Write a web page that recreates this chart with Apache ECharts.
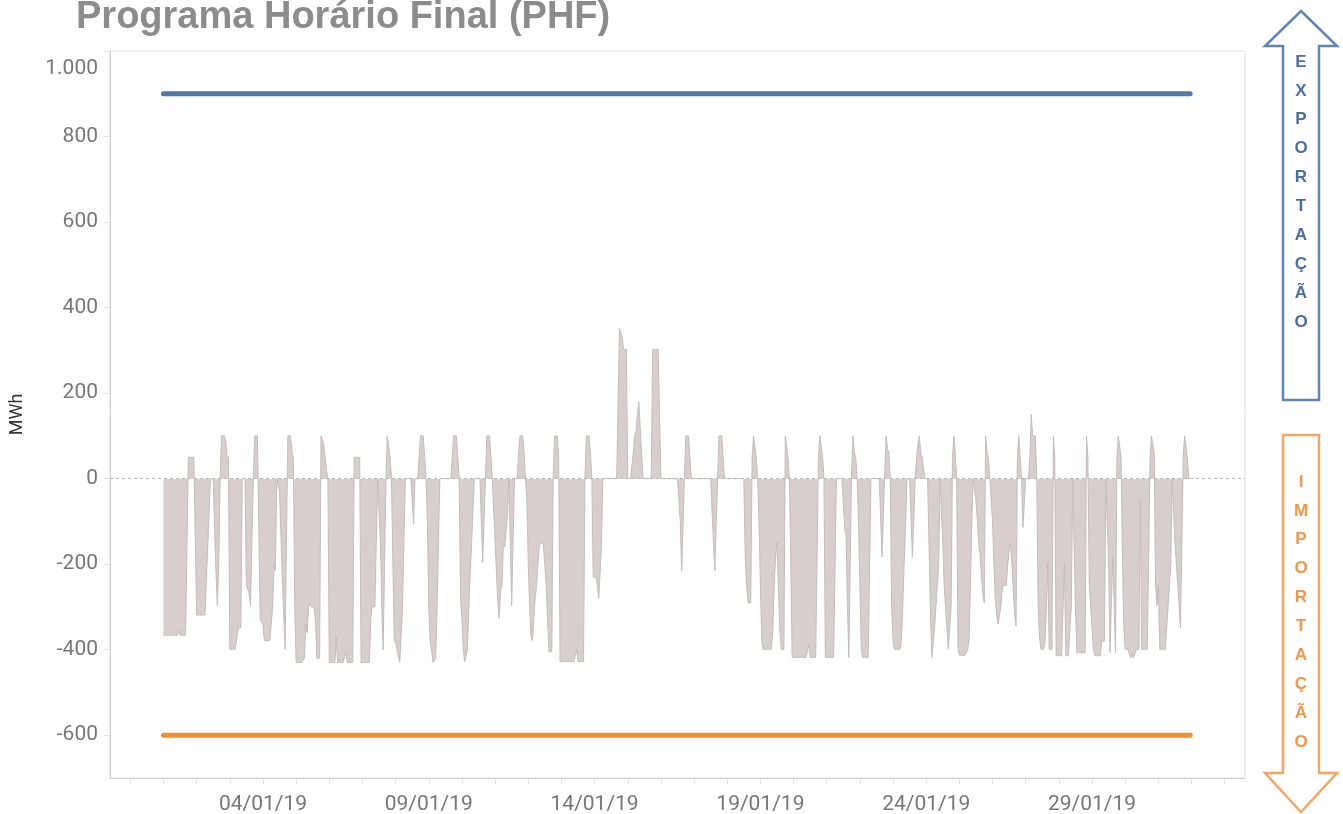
<!DOCTYPE html>
<html>
<head>
<meta charset="utf-8">
<script src="https://cdn.jsdelivr.net/npm/echarts@6/dist/echarts.min.js"></script>
<style>
  html, body { margin: 0; padding: 0; background: #fff; }
  #chart { width: 1343px; height: 814px; }
</style>
</head>
<body>
<div id="chart"></div>
<script>
// Hourly final program (MWh), January 2019: one row of 24 hours per day.
const hourlyMWh = [
  -366,-366,-366,-366,-366,-366,-366,-366,-366,-366,-366,-355,-366,-366,-366,-366,-366,-366,50,50,50,50,50,50,            // 01/01
  -319,-319,-319,-319,-319,-319,-319,-240,-160,-80,0,0,0,-120,-220,-297,-200,0,100,100,100,90,55,50,                      // 02/01
  -399,-399,-399,-399,-399,-399,-349,-349,-349,0,0,0,-247,-247,-270,-297,-297,0,100,100,100,100,-330,-330,                // 03/01
  -340,-379,-379,-379,-379,-379,-379,-300,-204,-215,0,0,-30,-130,-230,-320,-399,-399,100,100,100,60,50,-300,             // 04/01
  -430,-430,-430,-430,-430,-430,-420,-340,-360,-300,-290,-300,-300,-300,-330,-420,-420,-420,100,100,80,50,20,0,          // 05/01
  -430,-430,-430,-430,-430,-370,-430,-430,-430,-430,-430,-430,-405,-430,-430,-430,-430,-430,50,50,50,50,50,-430,         // 06/01
  -430,-430,-430,-430,-430,-430,-330,-300,-300,-300,-300,0,0,-150,-300,-400,-400,0,100,100,50,0,0,-379,                  // 07/01
  -385,-400,-415,-430,-430,-300,-150,0,0,0,0,0,-50,-106,0,0,0,50,100,100,100,50,0,-100,                                  // 08/01
  -300,-380,-400,-430,-430,-420,-300,-150,0,0,0,0,0,0,0,0,0,0,100,100,100,50,0,-280,                                     // 09/01
  -330,-400,-428,-428,-400,-300,-220,-150,-70,0,0,0,0,0,-100,-196,-196,0,100,100,100,50,0,-80,                           // 10/01
  -150,-220,-290,-327,-260,-250,-150,-160,-157,-80,0,0,-297,-297,0,0,0,60,100,100,100,60,0,-50,                          // 11/01
  -200,-300,-370,-379,-330,-280,-250,-200,-155,-155,-150,-155,-155,-250,-330,-405,-405,-405,0,100,100,100,50,-428,       // 12/01
  -428,-428,-428,-428,-428,-428,-428,-428,-428,-428,-428,-400,-428,-428,-428,-428,-428,0,100,100,100,60,0,-230,          // 13/01
  -230,-230,-250,-280,-220,-150,0,0,0,0,0,0,0,0,0,0,0,0,351,351,330,302,302,302,                                         // 14/01
  0,0,0,0,60,100,110,150,180,120,60,0,0,0,0,0,0,0,302,302,302,302,302,302,                                               // 15/01
  0,0,0,0,0,0,0,0,0,0,0,0,0,0,-100,-216,-216,0,100,100,100,50,0,0,                                                       // 16/01
  0,0,0,0,0,0,0,0,0,0,0,0,0,0,-150,-216,-216,0,100,100,100,50,0,0,                                                       // 17/01
  0,0,0,0,0,0,0,0,0,0,0,0,0,-183,-250,-291,-291,-291,50,100,100,50,0,-100,                                               // 18/01
  -250,-380,-399,-399,-399,-399,-399,-399,-399,-350,-250,-180,-150,-250,-350,-399,-399,-399,100,100,50,0,0,-418,         // 19/01
  -418,-418,-418,-418,-418,-418,-418,-418,-418,-418,-418,-390,-418,-418,-418,-418,-418,-418,50,100,100,50,0,-418,        // 20/01
  -418,-418,-418,-418,-418,-418,-418,0,0,0,0,0,0,-118,-130,-300,-418,-200,20,100,60,50,0,-100,                           // 21/01
  -250,-400,-418,-418,-418,-418,-418,-418,0,0,0,0,0,0,0,0,-183,-183,20,100,70,60,0,-300,                                 // 22/01
  -380,-399,-399,-399,-399,-399,-380,-300,-200,-120,0,0,0,0,-183,-100,0,50,80,100,60,50,50,0,                            // 23/01
  0,0,0,-300,-418,-418,-350,-300,-250,-200,0,0,-150,-250,-300,-350,-399,-350,-300,50,100,60,0,-400,                      // 24/01
  -413,-413,-413,-413,-413,-413,-400,-380,-250,-100,0,0,-50,-100,-150,-180,-230,-270,-291,100,60,50,0,0,                 // 25/01
  -100,-200,-280,-320,-340,-344,-300,-260,-250,-250,-250,-200,-170,-150,-200,-260,-320,-344,50,100,50,0,-114,-114,       // 26/01
  0,0,0,50,150,100,100,100,0,-300,-370,-399,-399,-399,-380,-300,-196,-399,-399,-399,100,50,-414,-414,                    // 27/01
  -414,-414,-414,-414,-196,-414,-414,-414,-350,-300,0,0,-300,-407,-407,-407,-407,-407,-407,-407,100,50,-250,-300,        // 28/01
  -350,-400,-414,-414,-414,-414,-414,-380,-380,-380,0,0,-200,-407,-407,-180,-180,-407,50,100,100,50,-180,-350,           // 29/01
  -399,-399,-399,-410,-420,-410,-420,-410,-400,-399,-399,-50,-399,-399,-399,-399,-399,-399,50,100,100,60,-250,-297,      // 30/01
  -250,-399,-399,-399,-399,-399,-399,-300,-250,-200,0,0,-150,-196,-250,-300,-349,-349,50,100,100,50,0,0                  // 31/01
];

// Interconnection limits (MWh)
const exportLimit = 900;
const importLimit = -600;

// Axis ticks and labels
const yTickValues = [-600, -400, -200, 0, 200, 400, 600, 800, 1000];
const dateTickHours = [72, 192, 312, 432, 552, 672];
const dateTickLabels = ['04/01/19', '09/01/19', '14/01/19', '19/01/19', '24/01/19', '29/01/19'];
const arrowUpText = 'EXPORTAÇÃO';
const arrowDownText = 'IMPORTAÇÃO';

const lastHour = hourlyMWh.length - 1;
const dayTickHours = [];
for (let h = -24; h <= 768; h += 24) dayTickHours.push(h);

const fmtThousands = v => {
  const s = String(Math.abs(v)).replace(/\B(?=(\d{3})+(?!\d))/g, '.');
  return (v < 0 ? '-' : '') + s;
};

const labelFont = 'Roboto';
const chart = echarts.init(document.getElementById('chart'), null, { renderer: 'canvas' });

chart.setOption({
  animation: false,
  backgroundColor: '#ffffff',
  title: {
    text: 'Programa Horário Final (PHF)',
    left: 76,
    top: -1,
    padding: 0,
    textStyle: { fontSize: 38, fontWeight: 'bold', color: '#8c8c8c', fontFamily: 'Liberation Sans' }
  },
  grid: {
    left: 110, right: 98, top: 51, bottom: 36,
    show: true, borderColor: '#e2e2e2', borderWidth: 1,
    outerBoundsMode: 'none'
  },
  xAxis: {
    type: 'value',
    min: -38.7,
    max: 782.7,
    axisLine: { show: true, onZero: false, lineStyle: { color: '#cdcdcd', width: 1 } },
    axisTick: { show: true, customValues: dayTickHours, length: 6, lineStyle: { color: '#e4e4e4' } },
    axisLabel: {
      customValues: dateTickHours,
      formatter: v => dateTickLabels[dateTickHours.indexOf(v)] || '',
      color: '#777777', fontSize: 21, fontFamily: labelFont, margin: 16
    },
    splitLine: { show: false }
  },
  yAxis: {
    type: 'value',
    min: -700,
    max: 1000,
    name: 'MWh',
    nameLocation: 'middle',
    nameGap: 84,
    nameRotate: 90,
    nameTextStyle: { color: '#333333', fontSize: 18, fontFamily: labelFont },
    axisLine: { show: true, onZero: false, lineStyle: { color: '#cdcdcd', width: 1 } },
    axisTick: { show: true, customValues: yTickValues, length: 6, lineStyle: { color: '#e4e4e4' } },
    axisLabel: {
      customValues: yTickValues,
      color: '#777777', fontSize: 21, fontFamily: labelFont, margin: 12,
      formatter: v => (v === 1000 ? '{top|' + fmtThousands(v) + '}' : fmtThousands(v)),
      rich: { top: { color: '#777777', fontSize: 21, fontFamily: labelFont, padding: [36, 0, 0, 0] } }
    },
    splitLine: { show: false }
  },
  series: [
    {
      name: 'PHF',
      type: 'line',
      data: hourlyMWh.map((v, i) => [i, v]),
      symbol: 'none',
      lineStyle: { color: '#c6bdbb', width: 1 },
      areaStyle: { color: '#d6cfcd', opacity: 1 },
      z: 2,
      markLine: {
        silent: true,
        symbol: ['none', 'none'],
        label: { show: false },
        lineStyle: { type: [3, 3], color: '#b8b8b8', width: 1 },
        data: [{ yAxis: 0 }]
      }
    },
    {
      name: 'Exportação',
      type: 'line',
      data: [[0, exportLimit], [lastHour, exportLimit]],
      symbol: 'none',
      lineStyle: { color: '#4e79a7', width: 5, cap: 'round' },
      z: 3
    },
    {
      name: 'Importação',
      type: 'line',
      data: [[0, importLimit], [lastHour, importLimit]],
      symbol: 'none',
      lineStyle: { color: '#f28e2b', width: 5, cap: 'round' },
      z: 3
    }
  ],
  graphic: [
    {
      type: 'polygon',
      shape: { points: [[1301, 11], [1337, 46], [1319, 46], [1319, 400], [1283, 400], [1283, 46], [1265, 46]] },
      style: { fill: '#ffffff', stroke: '#6185b7', lineWidth: 2.5 }
    },
    {
      type: 'text',
      x: 1301, y: 192,
      style: {
        text: arrowUpText.split('').join('\n'),
        fill: '#4d6f9f', fontSize: 17, fontWeight: 'bold', fontFamily: 'Liberation Sans',
        align: 'center', verticalAlign: 'middle', lineHeight: 28.9
      }
    },
    {
      type: 'polygon',
      shape: { points: [[1283, 435], [1319, 435], [1319, 773], [1337, 773], [1301, 812], [1265, 773], [1283, 773]] },
      style: { fill: '#ffffff', stroke: '#f3a660', lineWidth: 2.5 }
    },
    {
      type: 'text',
      x: 1301, y: 612,
      style: {
        text: arrowDownText.split('').join('\n'),
        fill: '#f0974a', fontSize: 17, fontWeight: 'bold', fontFamily: 'Liberation Sans',
        align: 'center', verticalAlign: 'middle', lineHeight: 28.9
      }
    }
  ]
});
</script>
</body>
</html>
